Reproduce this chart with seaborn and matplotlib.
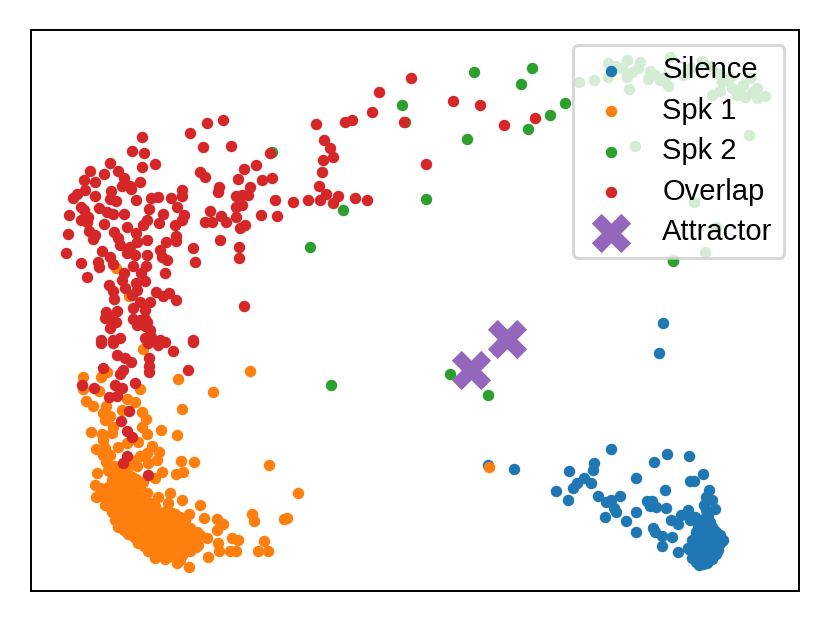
import matplotlib
matplotlib.use("Agg")
import matplotlib.pyplot as plt
import seaborn as sns

sil_x = [611,667,689,654,594,593,569,703,636,584,591,577,573,690,694,556,665,709,568,598,620,611,606,614,616,605,647,652,650,656,666,636,626,636,653,655,662,672,662,678,671,678,681,688,695,690,706,712,715,708,488,514,663,659,
         700,704,708,712,716,720,723,696,700,704,708,712,716,720,692,696,700,704,708,712,716,694,698,702,706,710,714,718,722,690,694,698,702,706,710,714,718,692,696,700,704,708,712,716,696,700,704,708,712,699,703,707,701,705,698,702,710,706,714,704,688,693]
sil_y = [449,454,456,462,463,470,471,474,478,478,483,483,488,481,481,491,490,490,500,496,496,500,502,508,512,517,501,501,506,507,508,512,521,532,528,532,536,537,546,552,520,524,515,510,517,520,497,500,509,515,465,469,323,353,
         525,528,530,527,532,535,540,532,535,534,538,536,540,543,540,544,541,545,542,546,545,548,549,547,550,548,551,546,541,550,554,553,555,552,554,553,550,558,558,559,557,559,556,554,562,561,563,561,559,565,564,563,520,518,527,523,522,510,530,505,548,552]

spk1_x = [250,213,182,178,269,298,161,177,181,194,183,176,200,182,170,158,204,217,223,217,252,254,287,284,264,258,268,238,232,236,230,218,219,208,207,197,189,177,189,
          83,83,86,93,101,107,99,106,103,110,105,91,102,113,112,96,103,105,103,110,118,127,140,135,127,122,142,146,142,147,138,152,159,147,157,148,137,97,109,162,155,143,132,127,95,96,115,147,143,168,143,116,129,489,
          100,104,108,112,116,120,124,128,132,136,140,102,106,110,114,118,122,126,130,134,138,105,110,115,120,125,130,135,140,145,150,155,112,117,122,127,132,137,142,147,152,157,162,167,172,115,120,125,130,135,140,145,150,155,160,165,170,175,180,185,118,124,130,136,142,148,154,160,166,172,178,184,190,128,134,140,146,152,158,164,170,176,182,188,194,200,138,144,150,156,162,168,174,180,186,192,198,148,154,160,166,172,178,184,190,196,155,160,165,170,176,182,180,190,
          108,114,120,126,132,112,118,124,130,136,106,128,134,140]
spk1_y = [371,392,409,379,465,493,430,435,461,462,472,474,505,500,493,497,518,519,524,530,514,521,518,519,541,551,551,540,538,551,551,543,551,557,538,532,567,563,514,
          377,389,401,406,377,372,391,406,413,416,420,432,434,427,433,449,440,448,455,455,447,443,389,402,399,410,412,419,427,434,442,446,452,453,460,463,466,473,471,472,478,482,477,472,485,497,475,493,500,503,349,268,296,467,
          488,490,487,491,486,489,485,488,484,487,485,496,499,495,498,494,497,493,496,492,495,505,507,503,506,502,505,501,504,500,503,506,512,515,511,514,510,513,509,512,508,511,514,510,513,520,523,519,522,518,521,517,520,516,519,515,518,514,517,520,527,530,526,529,525,528,524,527,523,526,522,525,528,534,537,533,536,532,535,531,534,530,533,536,532,535,543,546,542,545,541,544,540,543,539,542,545,551,554,550,553,549,552,548,551,547,558,555,559,556,552,555,560,545,
          470,466,473,468,464,480,477,482,476,479,462,458,461,456]

spk2_x = [474,532,521,402,405,565,550,528,467,426,343,310,450,488,331,673,272,
          579,594,608,608,627,622,627,638,629,648,650,660,668,670,665,683,702,717,722,712,720,732,737,745,757,765,757,743,750,730,635,749,694,716,705,673,612,615,632,640,655,690,710,727,740,752]
spk2_y = [72,68,84,105,122,103,115,129,139,199,210,247,374,395,385,261,152,
          82,80,77,63,60,68,77,68,89,79,71,80,86,57,77,75,61,73,82,95,91,88,95,97,98,96,88,85,78,77,146,135,202,227,252,260,70,66,72,62,75,68,66,80,92,92]

ovl_x = [142,132,144,142,155,110,90,104,118,124,84,95,140,122,130,131,85,77,111,95,73,110,116,136,151,158,182,182,171,177,149,81,84,99,107,113,124,69,163,184,81,88,87,147,104,159,182,175,127,143,89,114,68,95,136,93,176,118,137,147,176,166,120,130,160,102,66,127,162,135,147,110,167,81,98,99,113,133,146,165,87,124,141,122,145,136,109,113,125,137,132,114,156,163,169,176,150,140,106,117,109,116,133,145,133,145,140,145,151,160,101,120,113,193,244,
         207,223,190,203,231,200,205,244,238,219,218,193,195,239,239,220,210,205,212,221,226,236,245,236,242,236,242,
         248,250,256,270,262,272,275,277,293,308,322,319,326,320,338,355,367,333,316,324,330,333,323,345,352,372,379,411,404,453,480,504,535,426,240,261,
         101,113,148,165,193,173,117,125,131,149,149,149,123,120,103,188,82,94,115,122,135,109,117,129,121,127,132,127,123,148,110,137,147,105,150,145,158]
ovl_y = [137,151,153,167,164,163,171,174,171,178,180,182,182,186,186,189,190,194,191,196,198,199,201,200,198,197,190,196,198,207,209,207,210,208,212,214,214,215,214,215,220,217,222,220,224,223,220,225,227,225,231,232,234,235,233,239,236,238,242,240,241,242,245,247,250,251,253,253,257,255,255,257,260,263,262,267,264,266,266,273,277,273,273,280,281,283,285,291,288,290,295,299,292,296,293,300,302,302,312,311,318,322,308,310,319,319,320,326,337,340,340,338,340,340,306,
         123,120,133,147,146,172,177,169,179,187,192,248,262,247,258,240,211,222,222,216,222,217,225,196,195,207,205,
         195,187,165,153,180,178,200,216,202,200,172,186,194,200,196,198,200,203,124,140,148,157,160,122,120,112,92,78,122,101,105,125,118,164,228,215,
         343,343,343,342,342,351,355,358,362,358,366,372,370,374,368,370,385,388,385,388,383,397,396,411,421,431,437,456,463,475,328,325,322,318,330,338,345]

att_x = [471,507]
att_y = [370,339]

colors = ["#1f77b4", "#ff7f0e", "#2ca02c", "#d62728", "#9467bd"]

sns.set_style("white")
plt.rcParams["font.family"] = ["Liberation Sans", "DejaVu Sans"]
plt.rcParams["text.color"] = "black"

fig, ax = plt.subplots(figsize=(4.15, 3.115), dpi=200)
fig.subplots_adjust(left=31/830, right=799/830, top=1-30/623, bottom=1-591/623)
dot = 17
sns.scatterplot(x=sil_x, y=sil_y, color=colors[0], s=dot, linewidth=0, label="Silence", ax=ax)
sns.scatterplot(x=spk1_x, y=spk1_y, color=colors[1], s=dot, linewidth=0, label="Spk 1", ax=ax)
sns.scatterplot(x=spk2_x, y=spk2_y, color=colors[2], s=dot, linewidth=0, label="Spk 2", ax=ax)
sns.scatterplot(x=ovl_x, y=ovl_y, color=colors[3], s=dot, linewidth=0, label="Overlap", ax=ax)
sns.scatterplot(x=att_x, y=att_y, color=colors[4], s=200, marker="X", linewidth=0, label="Attractor", ax=ax)
ax.set_xlim(31, 799)
ax.set_ylim(591, 30)
ax.set_xticks([])
ax.set_yticks([])
for s in ax.spines.values():
    s.set_color("black")
    s.set_linewidth(0.7)
leg = ax.legend(loc="upper right", fontsize=10.5, framealpha=0.8, labelspacing=0.43,
                borderaxespad=0.5, handlelength=1.8, handletextpad=0.85)
for t in leg.get_texts():
    t.set_color("black")
fig.savefig("out.png", dpi=200)
